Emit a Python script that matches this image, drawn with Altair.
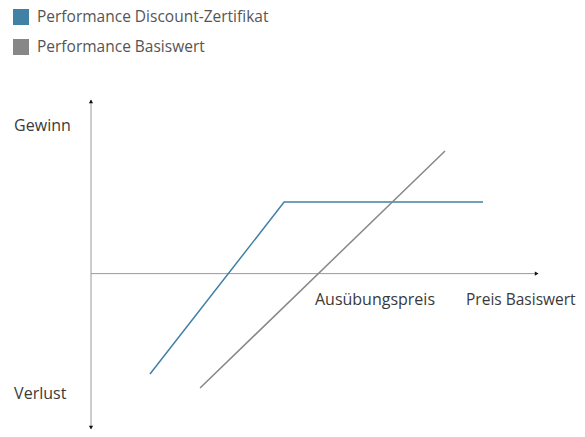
import altair as alt
import pandas as pd

# Series (abstract payoff units)
series_names = ["Performance Discount-Zertifikat", "Performance Basiswert"]
series_colors = ["#4181a5", "#878787"]

disc_x = [13.2, 43.2, 87.7]
disc_y = [-57.8, 41.2, 41.2]
basis_x = [24.4, 79.2]
basis_y = [-65.9, 70.6]

# Axis frame
x_min, x_max = 0, 100
y_min, y_max = -89.5, 100

labels_text = ["Gewinn", "Verlust", "Ausübungspreis"]
labels_x = [-17.2, -17.2, 50.1]
labels_y = [82.2, -72.2, -18.1]
xaxis_title = "Preis Basiswert"
xaxis_title_x = 83.9
xaxis_title_y = -18.1

lines = pd.DataFrame(
    [{"series": series_names[0], "x": x, "y": y, "o": i} for i, (x, y) in enumerate(zip(disc_x, disc_y))]
    + [{"series": series_names[1], "x": x, "y": y, "o": i} for i, (x, y) in enumerate(zip(basis_x, basis_y))]
)

axes_df = pd.DataFrame([
    {"x": 0, "x2": 0, "y": y_min, "y2": y_max},
    {"x": x_min, "x2": x_max, "y": 0, "y2": 0},
])

arrows_df = pd.DataFrame([
    {"x": 0, "y": y_max - 0.8, "shape": "triangle-up"},
    {"x": 0, "y": y_min + 0.8, "shape": "triangle-down"},
    {"x": x_max - 0.3, "y": 0, "shape": "triangle-right"},
])

labels_df = pd.DataFrame({"t": labels_text, "x": labels_x, "y": labels_y})
title_df = pd.DataFrame({"t": [xaxis_title], "x": [xaxis_title_x], "y": [xaxis_title_y]})

xs = alt.Scale(domain=[x_min, x_max], nice=False, zero=False)
ys = alt.Scale(domain=[y_min, y_max], nice=False, zero=False)
cs = alt.Scale(domain=series_names, range=series_colors)

axes = alt.Chart(axes_df).mark_rule(color="#9a9a9a", strokeWidth=1).encode(
    x=alt.X("x:Q", scale=xs, axis=None),
    x2="x2:Q",
    y=alt.Y("y:Q", scale=ys, axis=None),
    y2="y2:Q",
)

arrows = alt.Chart(arrows_df).mark_point(filled=True, color="#111111", size=18, opacity=1).encode(
    x=alt.X("x:Q", scale=xs, axis=None),
    y=alt.Y("y:Q", scale=ys, axis=None),
    shape=alt.Shape("shape:N", scale=None, legend=None),
)

line_chart = alt.Chart(lines).mark_line(strokeWidth=1.5).encode(
    x=alt.X("x:Q", scale=xs, axis=None),
    y=alt.Y("y:Q", scale=ys, axis=None),
    order="o:Q",
    color=alt.Color(
        "series:N",
        scale=cs,
        legend=alt.Legend(
            title=None,
            orient="none",
            legendX=-78,
            legendY=-91,
            direction="vertical",
            symbolType="square",
            symbolSize=64,
            symbolStrokeWidth=8,
            labelFont="Open Sans",
            labelFontSize=15.5,
            labelColor="#555555",
            labelOffset=8,
            labelLimit=400,
            rowPadding=-10,
            padding=0,
        ),
    ),
)

texts = alt.Chart(labels_df).mark_text(
    align="left", baseline="alphabetic", font="Open Sans", fontSize=16, color="#3a3a3a"
).encode(
    x=alt.X("x:Q", scale=xs, axis=None),
    y=alt.Y("y:Q", scale=ys, axis=None),
    text="t:N",
)

title_text = alt.Chart(title_df).mark_text(
    align="left", baseline="alphabetic", font="Open Sans", fontSize=15.5, color="#3a3a3a"
).encode(
    x=alt.X("x:Q", scale=xs, axis=None),
    y=alt.Y("y:Q", scale=ys, axis=None),
    text="t:N",
)

chart = alt.layer(axes, line_chart, arrows, texts, title_text).properties(
    width=447,
    height=329,
    autosize=alt.AutoSizeParams(type="none"),
    padding={"left": 83, "top": 92, "right": 39, "bottom": 0},
).configure_view(stroke=None)

chart.save("out.html", embed_options={"renderer": "svg", "actions": False})
